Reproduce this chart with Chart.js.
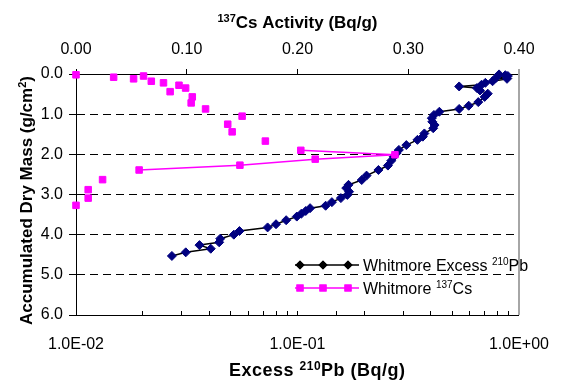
<!DOCTYPE html>
<html>
<head>
<meta charset="utf-8">
<title>Whitmore core profiles</title>
<style>
  html, body { margin: 0; padding: 0; background: #ffffff; }
  #wrap { width: 573px; height: 383px; position: relative; }
</style>
<script src="https://cdn.jsdelivr.net/npm/chart.js@4/dist/chart.umd.min.js"></script>
</head>
<body>
<div id="wrap"><canvas id="chart" width="573" height="383"></canvas></div>
<script>
// Excess 210Pb profile: accumulated dry mass (g/cm2) and activity (Bq/g)
const massPb = [0.01, 0.03, 0.05, 0.10, 0.12, 0.18, 0.22, 0.27, 0.31, 0.35,
                0.41, 0.49, 0.57, 0.70, 0.79, 0.87, 0.94, 1.02, 1.10, 1.19,
                1.27, 1.35, 1.48, 1.56, 1.64, 1.77, 1.89, 1.97, 2.06, 2.16,
                2.28, 2.39, 2.53, 2.64, 2.76, 2.84, 2.93, 3.01, 3.09, 3.19,
                3.28, 3.34, 3.41, 3.48, 3.55, 3.64, 3.74, 3.82, 3.91, 4.00,
                4.10, 4.19, 4.26, 4.35, 4.44, 4.53];
const excessPb = [0.813, 0.868, 0.891, 0.786, 0.883, 0.760, 0.705, 0.677, 0.537, 0.646,
                  0.667, 0.723, 0.700, 0.655, 0.593, 0.537, 0.437, 0.413, 0.404, 0.406,
                  0.416, 0.410, 0.374, 0.368, 0.348, 0.310, 0.287, 0.280, 0.272, 0.265,
                  0.256, 0.232, 0.205, 0.195, 0.170, 0.166, 0.171, 0.168, 0.157, 0.143,
                  0.134, 0.114, 0.109, 0.104, 0.0993, 0.0889, 0.0800, 0.0733, 0.0547, 0.0516,
                  0.0448, 0.0443, 0.0361, 0.0406, 0.0313, 0.0271];

// 137Cs profile; null marks an unsampled interval, which breaks the line
const massCs = [0.02, null, 0.05, null, 0.08, null, 0.12, null, 0.18, null,
                0.22, null, 0.28, null, 0.35, null, 0.44, null, 0.57, null,
                0.72, null, 0.87, null, 1.05, null, 1.25, null, 1.44, null,
                1.67, null, 1.90, 2.01, 2.12, 2.27, 2.39, null, 2.63, null,
                2.88, null, 3.09, null, 3.27];
const activityCs = [0.000, null, 0.061, null, 0.034, null, 0.052, null, 0.068, null,
                    0.079, null, 0.093, null, 0.099, null, 0.085, null, 0.105, null,
                    0.104, null, 0.117, null, 0.150, null, 0.137, null, 0.141, null,
                    0.171, null, 0.203, 0.288, 0.216, 0.148, 0.057, null, 0.024, null,
                    0.011, null, 0.011, null, 0.000];

// Labels for the decades of the logarithmic axis
const pbDecades = [0.01, 0.1, 1];
const pbDecadeLabels = ['1.0E-02', '1.0E-01', '1.0E+00'];

const FONT = '"Liberation Sans", Arial, Helvetica, sans-serif';
const NAVY = '#000080';
const MAGENTA = '#ff00ff';

Chart.defaults.font.family = FONT;
Chart.defaults.font.size = 16;
Chart.defaults.color = '#000000';

// Draws a run of text pieces, some of them as superscripts
function richWidth(ctx, parts, size, weight) {
  let w = 0;
  for (const p of parts) {
    ctx.font = weight + ' ' + (p.sup ? Math.round(size * 0.64) : size) + 'px ' + FONT;
    w += ctx.measureText(p.t).width;
  }
  return w;
}
function drawRich(ctx, parts, x, y, size, weight) {
  let cx = x;
  for (const p of parts) {
    const s = p.sup ? Math.round(size * 0.64) : size;
    ctx.font = weight + ' ' + s + 'px ' + FONT;
    ctx.fillText(p.t, cx, p.sup ? y - size * 0.36 : y);
    cx += ctx.measureText(p.t).width;
  }
}

const decorations = {
  id: 'decorations',
  afterDraw(chart) {
    const ctx = chart.ctx;
    const area = chart.chartArea;
    ctx.save();
    ctx.fillStyle = '#000000';
    ctx.textBaseline = 'alphabetic';
    ctx.textAlign = 'left';

    // right frame of the plot area
    ctx.strokeStyle = '#a6a6a6';
    ctx.lineWidth = 2;
    ctx.beginPath();
    ctx.moveTo(area.right, area.top - 5);
    ctx.lineTo(area.right, area.bottom);
    ctx.stroke();

    // axis titles
    const mid = (area.left + area.right) / 2;
    const topTitle = [{t: '137', sup: true}, {t: 'Cs Activity (Bq/g)'}];
    drawRich(ctx, topTitle, mid - richWidth(ctx, topTitle, 17, 'bold') / 2, 28, 17, 'bold');

    const bottomTitle = [{t: 'Excess '}, {t: '210', sup: true}, {t: 'Pb (Bq/g)'}];
    ctx.save();
    if ('letterSpacing' in ctx) ctx.letterSpacing = '0.5px';
    drawRich(ctx, bottomTitle, 229, 376, 18, 'bold');
    ctx.restore();

    const leftTitle = [{t: 'Accumulated Dry Mass (g/cm'}, {t: '2', sup: true}, {t: ')'}];
    ctx.save();
    ctx.translate(32, (area.top + area.bottom) / 2 + 6);
    ctx.rotate(-Math.PI / 2);
    drawRich(ctx, leftTitle, -richWidth(ctx, leftTitle, 17, 'bold') / 2, 0, 17, 'bold');
    ctx.restore();

    // legend
    const rows = [
      {y: 265, line: '#000000', marker: '#000000', style: 'rectRot', r: 3.5,
       text: [{t: 'Whitmore Excess '}, {t: '210', sup: true}, {t: 'Pb'}]},
      {y: 288, line: MAGENTA, marker: MAGENTA, style: 'rect', r: 4,
       text: [{t: 'Whitmore '}, {t: '137', sup: true}, {t: 'Cs'}]}
    ];
    for (const row of rows) {
      ctx.strokeStyle = row.line;
      ctx.lineWidth = 1.5;
      ctx.beginPath();
      ctx.moveTo(295, row.y);
      ctx.lineTo(359, row.y);
      ctx.stroke();
      for (const mx of [300, 323, 348]) {
        Chart.helpers.drawPoint(ctx, {pointStyle: row.style, radius: row.r, borderWidth: 1, rotation: 0},
          mx, row.y);
        ctx.fillStyle = row.marker;
        ctx.strokeStyle = row.marker;
        ctx.fill();
        ctx.stroke();
      }
      ctx.fillStyle = '#000000';
      drawRich(ctx, row.text, 363, row.y + 6, 16, 'normal');
    }
    ctx.restore();
  }
};

new Chart(document.getElementById('chart'), {
  type: 'scatter',
  data: {
    datasets: [
      {
        label: 'Whitmore 137Cs',
        data: massCs.map((m, i) => ({x: activityCs[i], y: m})),
        xAxisID: 'x2',
        yAxisID: 'y',
        showLine: true,
        spanGaps: false,
        borderColor: MAGENTA,
        borderWidth: 1.5,
        pointStyle: 'rect',
        pointRadius: 4.6,
        pointBackgroundColor: MAGENTA,
        pointBorderColor: MAGENTA,
        pointBorderWidth: 1,
        clip: false,
        order: 1
      },
      {
        label: 'Whitmore Excess 210Pb',
        data: massPb.map((m, i) => ({x: excessPb[i], y: m})),
        xAxisID: 'x',
        yAxisID: 'y',
        showLine: true,
        borderColor: '#000000',
        borderWidth: 1.5,
        pointStyle: 'rectRot',
        pointRadius: 4.5,
        pointBackgroundColor: NAVY,
        pointBorderColor: NAVY,
        pointBorderWidth: 1,
        clip: false,
        order: 2
      }
    ]
  },
  options: {
    responsive: false,
    animation: false,
    events: [],
    layout: {padding: {left: 0, right: 32, top: 0, bottom: 0}},
    plugins: {legend: {display: false}, tooltip: {enabled: false}},
    scales: {
      x: {
        type: 'logarithmic',
        position: 'bottom',
        min: 0.01,
        max: 1,
        afterFit: s => { s.height = 68; },
        border: {display: true, color: '#000000', width: 1},
        grid: {drawOnChartArea: false, drawTicks: true, tickLength: -4, color: '#000000', tickColor: '#000000'},
        ticks: {
          autoSkip: false,
          maxRotation: 0,
          padding: 24,
          callback: v => {
            const k = pbDecades.findIndex(d => Math.abs(v - d) < d * 1e-6);
            return k >= 0 ? pbDecadeLabels[k] : '';
          }
        }
      },
      x2: {
        type: 'linear',
        position: 'top',
        min: 0,
        max: 0.4,
        afterFit: s => { s.height = 74; },
        border: {display: true, color: '#000000', width: 1},
        grid: {drawOnChartArea: false, drawTicks: true, tickLength: 5, color: '#000000', tickColor: '#000000'},
        ticks: {stepSize: 0.1, padding: 10, maxRotation: 0, callback: v => v.toFixed(2)}
      },
      y: {
        type: 'linear',
        reverse: true,
        min: 0,
        max: 6,
        afterFit: s => { s.width = 76; },
        border: {display: true, color: '#000000', width: 1, dash: [8, 5]},
        grid: {drawOnChartArea: true, drawTicks: true, tickLength: 7, color: '#000000', tickColor: '#000000', lineWidth: 1},
        ticks: {stepSize: 1, padding: 6, callback: v => v.toFixed(1)}
      }
    }
  },
  plugins: [decorations]
});
</script>
</body>
</html>
